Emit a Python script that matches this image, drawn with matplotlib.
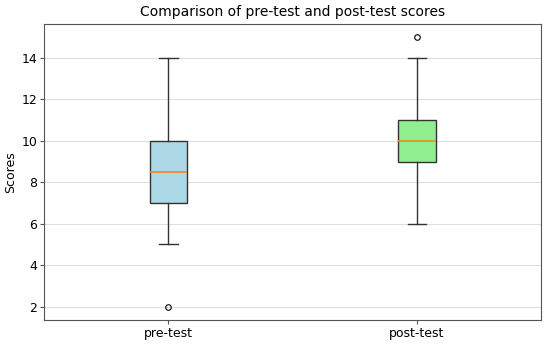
import matplotlib.pyplot as plt

# values
labels = ["pre-test", "post-test"]
fill_colors = ["lightblue", "lightgreen"]
medians = [8.5, 10.0]
q1 = [7.0, 9.0]
q3 = [10.0, 11.0]
whisker_lo = [5.0, 6.0]
whisker_hi = [14.0, 14.0]
outliers = [[2.0], [15.0]]

stats = []
for i, lbl in enumerate(labels):
  stats.append({
    "label": lbl,
    "med": medians[i],
    "q1": q1[i],
    "q3": q3[i],
    "whislo": whisker_lo[i],
    "whishi": whisker_hi[i],
    "fliers": outliers[i],
  })

fig, ax = plt.subplots(figsize=(5.5, 3.46), dpi=100)
fig.subplots_adjust(left=0.08, right=0.984, top=0.931, bottom=0.075)

bp = ax.bxp(stats, patch_artist=True, widths=0.15,
            flierprops=dict(marker="o", markersize=4, markerfacecolor="none", markeredgecolor="black", markeredgewidth=0.8),
            medianprops=dict(color="#ff7f0e", linewidth=1.1),
            whiskerprops=dict(color="#333333"),
            capprops=dict(color="#333333"),
            boxprops=dict(edgecolor="#333333"))
for patch, c in zip(bp["boxes"], fill_colors):
  patch.set_facecolor(c)

ax.set_title("Comparison of pre-test and post-test scores", fontsize=10)
ax.set_ylabel("Scores", fontsize=9, labelpad=3)
ax.tick_params(labelsize=9, length=3, pad=1.8, color="#555555")
ax.yaxis.grid(True, alpha=0.4)
ax.set_axisbelow(True)
for s in ax.spines.values():
  s.set_color("#555555")

plt.savefig("out.png", dpi=100)
